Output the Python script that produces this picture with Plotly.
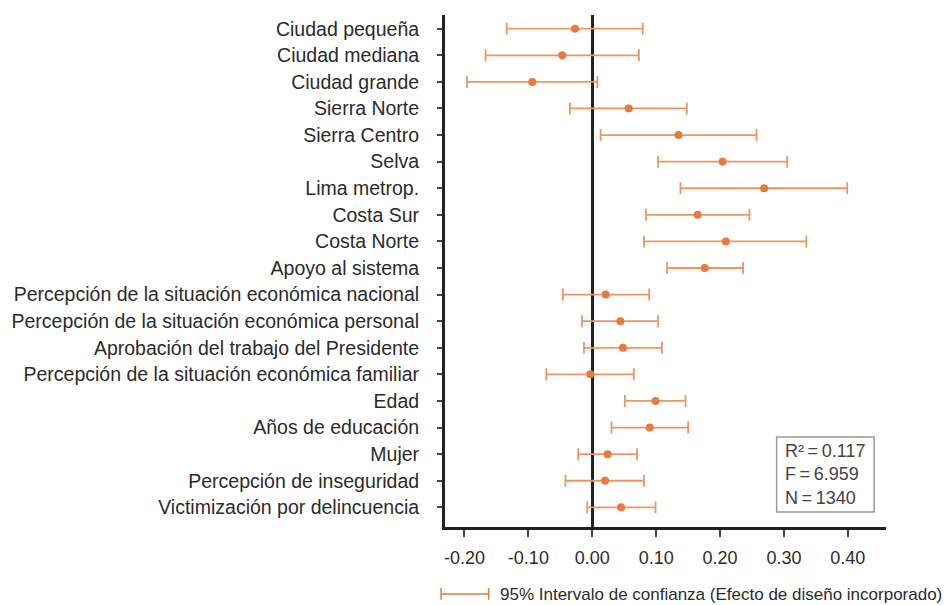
import plotly.graph_objects as go

# Variables (top to bottom)
variables = [
    "Ciudad pequeña", "Ciudad mediana", "Ciudad grande", "Sierra Norte",
    "Sierra Centro", "Selva", "Lima metrop.", "Costa Sur", "Costa Norte",
    "Apoyo al sistema", "Percepción de la situación económica nacional",
    "Percepción de la situación económica personal",
    "Aprobación del trabajo del Presidente",
    "Percepción de la situación económica familiar", "Edad",
    "Años de educación", "Mujer", "Percepción de inseguridad",
    "Victimización por delincuencia",
]

# Standardized coefficients and 95% CI bounds
coef = [-0.027, -0.047, -0.094, 0.057, 0.135, 0.204, 0.269, 0.165, 0.209,
        0.176, 0.021, 0.044, 0.048, -0.003, 0.099, 0.090, 0.024, 0.020, 0.045]
ci_low = [-0.134, -0.167, -0.196, -0.035, 0.013, 0.103, 0.138, 0.084, 0.081,
          0.117, -0.046, -0.016, -0.013, -0.072, 0.051, 0.030, -0.022, -0.042, -0.008]
ci_high = [0.079, 0.073, 0.008, 0.148, 0.257, 0.305, 0.399, 0.246, 0.335,
           0.236, 0.089, 0.103, 0.109, 0.065, 0.146, 0.150, 0.070, 0.081, 0.099]

x_ticks = [-0.2, -0.1, 0.0, 0.1, 0.2, 0.3, 0.4]
x_labels = [f"{v:.2f}" for v in x_ticks]

err_plus = [h - c for h, c in zip(ci_high, coef)]
err_minus = [c - l for c, l in zip(coef, ci_low)]

FONT = "Liberation Sans, Arial, sans-serif"
ORANGE = "#E8793F"

fig = go.Figure()
fig.add_trace(go.Scatter(
    x=coef, y=variables, mode="markers",
    marker=dict(color=ORANGE, size=8),
    error_x=dict(type="data", symmetric=False, array=err_plus,
                 arrayminus=err_minus, color="#EF9563", thickness=1.8, width=6),
    showlegend=False,
))

fig.update_layout(
    width=952, height=605,
    margin=dict(l=442, r=66, t=15, b=78),
    plot_bgcolor="white", paper_bgcolor="white",
    font=dict(family=FONT, size=19, color="#2b2b2b"),
    xaxis=dict(
        range=[-0.2305, 0.4597], tickvals=x_ticks, ticktext=x_labels,
        showgrid=False, showline=True, linecolor="#222", linewidth=3,
        ticks="outside", ticklen=7, tickcolor="#444", tickwidth=1.5,
        zeroline=True, zerolinecolor="#222", zerolinewidth=3,
        ticklabelstandoff=5, tickfont=dict(size=18),
    ),
    yaxis=dict(
        type="category", categoryarray=variables, range=[18.74, -0.515],
        showgrid=False, showline=True, linecolor="#222", linewidth=3,
        ticks="outside", ticklen=5, tickcolor="#444", tickwidth=1.5,
        ticklabelstandoff=14, tickfont=dict(size=19.5),
    ),
)

# Fit statistics box
fig.add_shape(type="rect", xref="paper", yref="paper", x0=0.752, x1=0.973,
              y0=0.0293, y1=0.1758, line=dict(color="#999", width=1.5),
              fillcolor="white", layer="above")
fig.add_annotation(
    xref="paper", yref="paper", x=0.766, y=0.1035, xanchor="left", yanchor="middle",
    text="R²\u2009=\u20090.117<br>F\u2009=\u20096.959<br>N\u2009=\u20091340",
    showarrow=False, align="left", font=dict(size=18, color="#444"),
)

# Legend for the confidence interval
fig.add_shape(type="line", xref="paper", yref="paper", x0=-0.009, x1=0.099,
              y0=-0.1309, y1=-0.1309, line=dict(color=ORANGE, width=1.5))
for xe in (-0.009, 0.099):
    fig.add_shape(type="line", xref="paper", yref="paper", x0=xe, x1=xe,
                  y0=-0.119, y1=-0.142, line=dict(color=ORANGE, width=1.5))
fig.add_annotation(
    xref="paper", yref="paper", x=0.120, y=-0.1309, xanchor="left", yanchor="middle",
    text="95% Intervalo de confianza (Efecto de diseño incorporado)",
    showarrow=False, font=dict(size=17, color="#2b2b2b"),
)

fig.write_html("out.html", config={"displayModeBar": False},
               post_script="document.body.style.margin='0';")
